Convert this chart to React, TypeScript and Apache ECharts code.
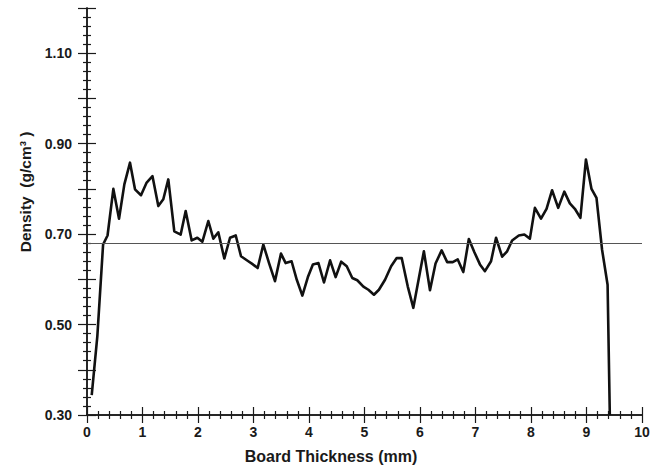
import React, { useEffect, useRef } from "react";
import * as echarts from "echarts";

// Board thickness (mm) and density (g/cm³)
const thickness = [
  0.085, 0.186, 0.29, 0.37, 0.475, 0.577, 0.673, 0.775, 0.865, 0.973,
  1.075, 1.18, 1.285, 1.375, 1.465, 1.573, 1.688, 1.778, 1.886, 1.988,
  2.078, 2.186, 2.276, 2.366, 2.474, 2.577, 2.68, 2.775, 2.906, 2.99,
  3.075, 3.177, 3.28, 3.387, 3.495, 3.58, 3.686, 3.78, 3.88, 3.98,
  4.07, 4.17, 4.27, 4.38, 4.48, 4.58, 4.68, 4.78, 4.87, 4.98,
  5.07, 5.17, 5.26, 5.37, 5.48, 5.58, 5.67, 5.78, 5.88, 5.98,
  6.07, 6.18, 6.28, 6.39, 6.49, 6.59, 6.68, 6.78, 6.88, 6.98,
  7.08, 7.17, 7.28, 7.37, 7.48, 7.57, 7.66, 7.78, 7.88, 7.98,
  8.07, 8.18, 8.28, 8.38, 8.49, 8.6, 8.7, 8.79, 8.89, 8.99,
  9.09, 9.18, 9.28, 9.38, 9.42,
];
const density = [
  0.344, 0.474, 0.677, 0.697, 0.8, 0.734, 0.81, 0.858, 0.799, 0.786,
  0.814, 0.828, 0.762, 0.777, 0.821, 0.706, 0.699, 0.751, 0.686, 0.692,
  0.683, 0.729, 0.69, 0.704, 0.646, 0.692, 0.697, 0.651, 0.64, 0.633,
  0.625, 0.677, 0.636, 0.596, 0.657, 0.636, 0.64, 0.599, 0.564, 0.605,
  0.633, 0.636, 0.593, 0.642, 0.605, 0.639, 0.629, 0.603, 0.598, 0.584,
  0.577, 0.566, 0.577, 0.599, 0.629, 0.647, 0.647, 0.584, 0.537, 0.603,
  0.662, 0.576, 0.635, 0.664, 0.638, 0.638, 0.644, 0.616, 0.689, 0.66,
  0.633, 0.618, 0.64, 0.692, 0.65, 0.662, 0.686, 0.697, 0.699, 0.69,
  0.758, 0.734, 0.756, 0.797, 0.758, 0.794, 0.768, 0.756, 0.736, 0.865,
  0.8, 0.78, 0.666, 0.588, 0.3,
];
const meanDensity = 0.676;

const xTitle = "Board Thickness (mm)";
const yTitle = "Density  (g/cm³ )";

const FONT = "'Liberation Sans', Arial, Helvetica, sans-serif";
const INK = "#1a1a1a";

export default function App() {
  const ref = useRef<HTMLDivElement>(null);

  useEffect(() => {
    if (!ref.current) return;
    const chart = echarts.init(ref.current, null, { renderer: "svg" });

    const labelStyle = {
      color: INK,
      fontFamily: FONT,
      fontWeight: "bold" as const,
      fontSize: 14,
    };

    const xBase = (inside: boolean, showLabel: boolean) => ({
      type: "value" as const,
      gridIndex: 0,
      position: "bottom" as const,
      offset: 0,
      min: 0,
      max: 10,
      interval: 1,
      axisLine: { show: true, onZero: false, lineStyle: { color: INK, width: 1.5 } },
      axisTick: { show: true, inside, length: 8, lineStyle: { color: INK, width: 1.2 } },
      minorTick: { show: true, splitNumber: 5, length: 4, lineStyle: { color: INK, width: 1.2 } },
      splitLine: { show: false },
      minorSplitLine: { show: false },
      axisLabel: { show: showLabel, margin: 10, ...labelStyle },
    });

    const yBase = (inside: boolean, showLabel: boolean) => ({
      type: "value" as const,
      gridIndex: 0,
      position: "left" as const,
      offset: 0,
      min: 0.3,
      max: 1.2,
      interval: 0.1,
      axisLine: { show: true, onZero: false, lineStyle: { color: INK, width: 1.5 } },
      axisTick: { show: true, inside, length: 9, lineStyle: { color: INK, width: 1.2 } },
      minorTick: { show: true, splitNumber: 5, length: 4, lineStyle: { color: INK, width: 1.2 } },
      splitLine: { show: false },
      minorSplitLine: { show: false },
      axisLabel: {
        show: showLabel,
        margin: 15,
        ...labelStyle,
        formatter: (v: number) => {
          const k = Math.round(v * 10);
          return k % 2 === 1 ? (k / 10).toFixed(2) : "";
        },
      },
    });

    chart.setOption({
      animation: false,
      backgroundColor: "#ffffff",
      grid: { left: 87, right: 15, top: 8, bottom: 51, containLabel: false },
      xAxis: [xBase(false, true), xBase(true, false)],
      yAxis: [yBase(false, true), yBase(true, false)],
      series: [
        {
          type: "line",
          xAxisIndex: 0,
          yAxisIndex: 0,
          data: thickness.map((t, i) => [t, density[i]]),
          showSymbol: false,
          symbol: "none",
          lineStyle: { color: "#111", width: 2.6, join: "round" },
          clip: false,
          markLine: {
            silent: true,
            symbol: "none",
            label: { show: false },
            lineStyle: { color: "#555", width: 1.2, type: "solid" },
            data: [{ yAxis: meanDensity }],
          },
        },
      ],
      graphic: [
        {
          type: "text",
          x: 331,
          y: 456,
          style: {
            text: xTitle,
            fill: INK,
            font: `bold 16px ${FONT}`,
            textAlign: "center",
            textVerticalAlign: "middle",
          },
        },
        {
          type: "text",
          x: 25,
          y: 192,
          rotation: Math.PI / 2,
          style: {
            text: yTitle,
            fill: INK,
            font: `bold 15.5px ${FONT}`,
            textAlign: "center",
            textVerticalAlign: "middle",
          },
        },
      ],
    });

    return () => chart.dispose();
  }, []);

  return (
    <div
      ref={ref}
      style={{ position: "fixed", left: 0, top: 0, width: 657, height: 466, background: "#fff" }}
    />
  );
}
